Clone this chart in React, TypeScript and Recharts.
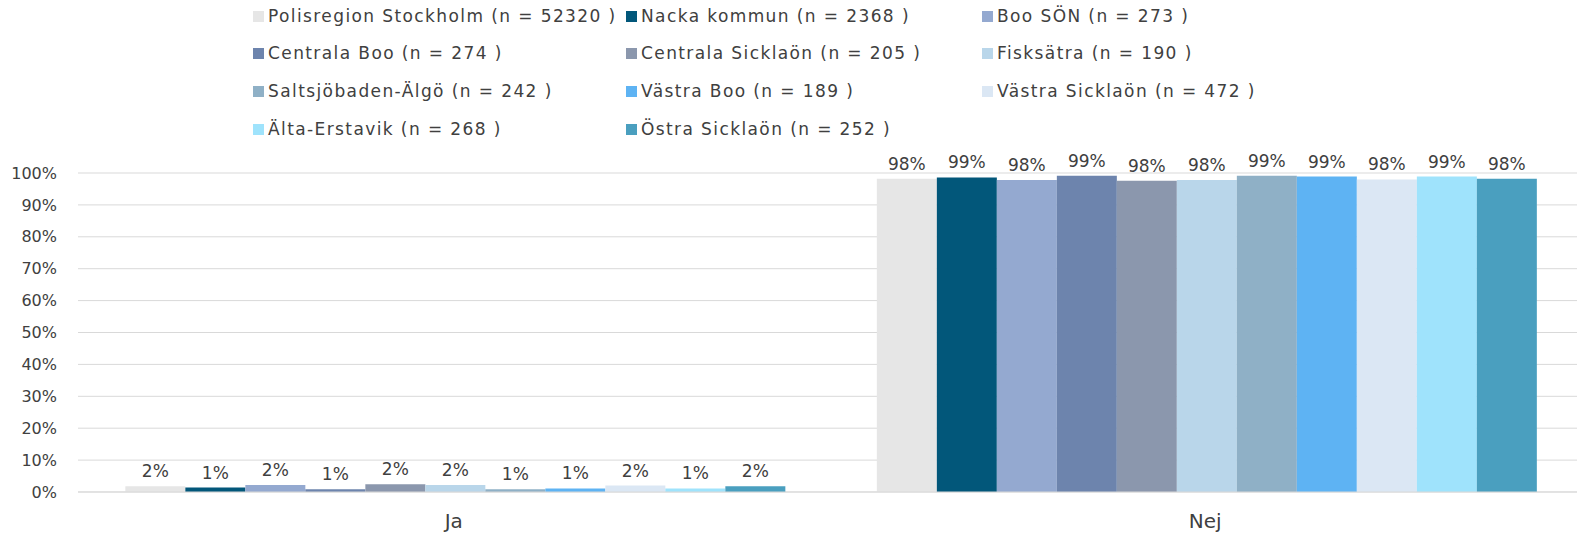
import React from "react";
import {
  BarChart,
  Bar,
  XAxis,
  YAxis,
  CartesianGrid,
  LabelList,
} from "recharts";

// answer categories on the x axis
const categories = ["Ja", "Nej"];

// areas, in legend order
const seriesNames = [
  "Polisregion Stockholm (n = 52320 )",
  "Nacka kommun (n = 2368 )",
  "Boo SÖN (n = 273 )",
  "Centrala Boo (n = 274 )",
  "Centrala Sicklaön (n = 205 )",
  "Fisksätra (n = 190 )",
  "Saltsjöbaden-Älgö (n = 242 )",
  "Västra Boo (n = 189 )",
  "Västra Sicklaön (n = 472 )",
  "Älta-Erstavik (n = 268 )",
  "Östra Sicklaön (n = 252 )",
];

const seriesColors = [
  "#e6e6e6",
  "#02577a",
  "#94a9d0",
  "#6d84ad",
  "#8b97ad",
  "#b9d6ea",
  "#8fb0c6",
  "#5eb3f3",
  "#dbe7f4",
  "#9fe3fc",
  "#4a9fbf",
];

// share (%) per area: [Ja, Nej]
const jaValues = [1.8, 1.4, 2.2, 0.9, 2.4, 2.2, 0.9, 1.1, 2.0, 1.1, 1.8];
const nejValues = [98.2, 98.6, 97.8, 99.1, 97.6, 97.8, 99.1, 98.9, 98.0, 98.9, 98.2];

const yTicks = [0, 10, 20, 30, 40, 50, 60, 70, 80, 90, 100];
const boundaryTicks = [0, 1, 2];

const FONT = "'DejaVu Sans', sans-serif";
const TEXT = "#404040";

const data = categories.map((cat, ci) => {
  const row: Record<string, string | number> = { name: cat };
  seriesNames.forEach((s, si) => {
    row["s" + si] = ci === 0 ? jaValues[si] : nejValues[si];
  });
  return row;
});

// legend is laid out in 3 columns like the original
const legendCols = [253, 626, 982];
const legendRows = [16, 53, 91, 129];

function ChartLegend() {
  return (
    <>
      {seriesNames.map((name, i) => (
        <div
          key={name}
          style={{
            position: "absolute",
            left: legendCols[i % 3],
            top: legendRows[Math.floor(i / 3)] - 10,
            height: 20,
            display: "flex",
            alignItems: "center",
            fontFamily: FONT,
            fontSize: 17,
            letterSpacing: 1.4,
            color: TEXT,
            whiteSpace: "nowrap",
            zIndex: 1,
          }}
        >
          <span
            style={{
              display: "inline-block",
              width: 11,
              height: 11,
              background: seriesColors[i],
              marginRight: 4,
            }}
          />
          {name}
        </div>
      ))}
    </>
  );
}

export default function App() {
  return (
    <div
      style={{
        position: "absolute",
        left: 0,
        top: 0,
        width: 1577,
        height: 538,
        overflow: "hidden",
        background: "#fff",
      }}
    >
      <ChartLegend />
      <BarChart
        width={1581}
        height={538}
        data={data}
        margin={{ top: 173, right: 0, bottom: 6, left: 0 }}
        barCategoryGap="6.3%"
        barGap={0}
      >
        <CartesianGrid vertical={false} stroke="#d9d9d9" />
        <XAxis
          xAxisId="bounds"
          type="number"
          domain={[0, 2]}
          ticks={boundaryTicks}
          tick={false}
          tickSize={7}
          tickLine={{ stroke: "#d9d9d9" }}
          axisLine={false}
          height={0}
        />
        <XAxis
          dataKey="name"
          height={40}
          axisLine={{ stroke: "#d9d9d9" }}
          tickLine={false}
          tick={{ fontFamily: FONT, fontSize: 20, fill: TEXT }}
          tickMargin={16}
        />
        <YAxis
          width={78}
          domain={[0, 100]}
          ticks={yTicks}
          axisLine={false}
          tickLine={false}
          tickFormatter={(v) => `${v}%`}
          tick={{ fontFamily: FONT, fontSize: 16, fill: TEXT }}
          tickMargin={15}
        />
        {seriesNames.map((name, i) => (
          <Bar
            key={name}
            dataKey={"s" + i}
            name={name}
            fill={seriesColors[i]}
            isAnimationActive={false}
          >
            <LabelList
              dataKey={"s" + i}
              position="top"
              offset={9}
              formatter={(v: number) => `${Math.round(v)}%`}
              style={{ fontFamily: FONT, fontSize: 17, fill: TEXT }}
            />
          </Bar>
        ))}
      </BarChart>
    </div>
  );
}
